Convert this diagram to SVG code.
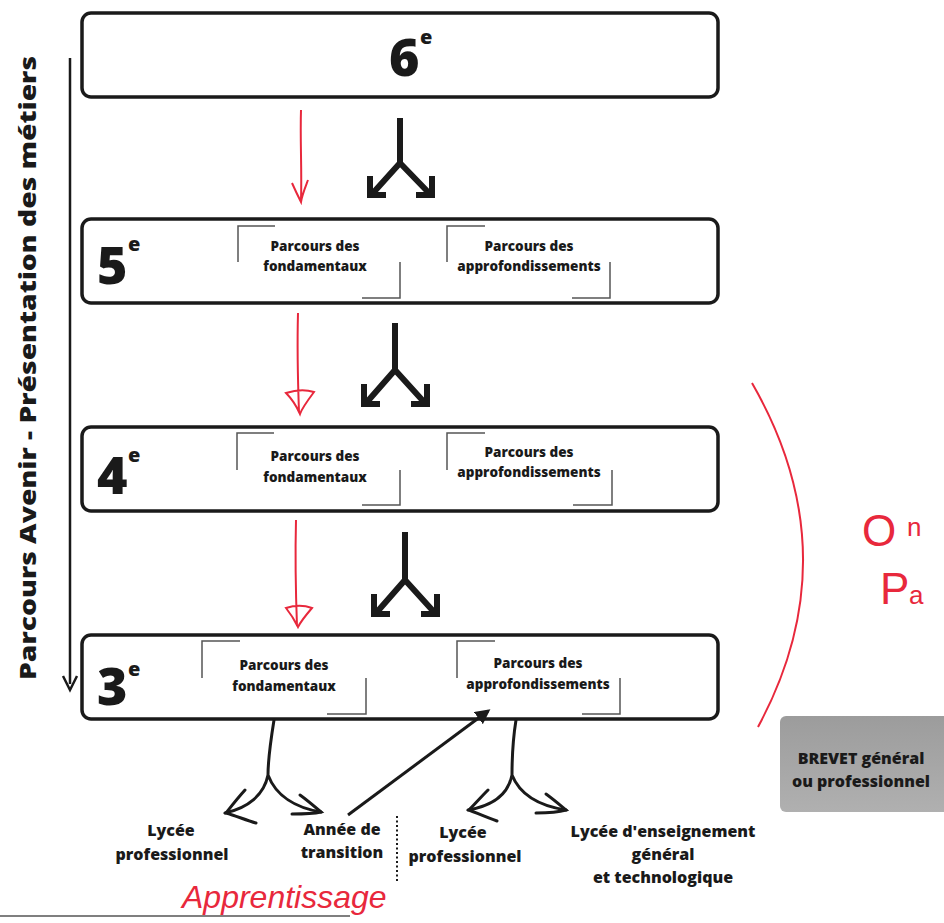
<svg xmlns="http://www.w3.org/2000/svg" width="944" height="923" viewBox="0 0 944 923">
<defs>
<style>
.box{fill:#fff;stroke:#1a1a1a;stroke-width:3.5}
.big{font-family:"Open Sans","DejaVu Sans",sans-serif;font-weight:800;font-size:52px;fill:#1a1a1a}
.sup{font-family:"Open Sans","DejaVu Sans",sans-serif;font-weight:800;font-size:20px;fill:#1a1a1a}
.pl{font-family:"Open Sans","DejaVu Sans",sans-serif;font-weight:800;font-size:13.5px;fill:#1a1a1a;text-anchor:middle}
.lb{font-family:"Open Sans","DejaVu Sans",sans-serif;font-weight:800;font-size:16px;fill:#1a1a1a;text-anchor:middle}
.frm{fill:none;stroke:#555;stroke-width:1.5}
.red{fill:none;stroke:#e8283c;stroke-width:2}
.fork{fill:none;stroke:#1a1a1a;stroke-width:6;stroke-linecap:butt}
.curv{fill:none;stroke:#1a1a1a;stroke-width:3;stroke-linecap:round}
.hand{font-family:"Liberation Sans",sans-serif;font-weight:normal;fill:#e8283c}
</style>
<linearGradient id="gg" x1="0" y1="0" x2="0" y2="1">
<stop offset="0" stop-color="#9c9c9c"/><stop offset="1" stop-color="#b0b0b0"/>
</linearGradient>
<marker id="ah" viewBox="0 0 10 10" refX="8" refY="5" markerWidth="5" markerHeight="5" orient="auto">
<path d="M0,0 L10,5 L0,10 z" fill="#1a1a1a"/>
</marker>
</defs>

<g id="side-label">
<text transform="translate(36,368) rotate(-90)" text-anchor="middle" font-family="Open Sans, DejaVu Sans, sans-serif" font-weight="800" font-size="23" fill="#1a1a1a" textLength="624" lengthAdjust="spacingAndGlyphs">Parcours Avenir  -  Présentation des métiers</text>
</g>

<g id="box-6e">
<rect class="box" x="82" y="13" width="636" height="84" rx="9"/>
<text class="big" x="389" y="76">6</text><text class="sup" x="420" y="44">e</text>
</g>

<g id="box-5e">
<rect class="box" x="82" y="219" width="636" height="84" rx="9"/>
<text class="big" x="97" y="284">5</text><text class="sup" x="128" y="251">e</text>
<path class="frm" d="M238,262 V226 H275 M362,298 H400 V262"/>
<text class="pl" x="315" y="251">Parcours des</text><text class="pl" x="315" y="271">fondamentaux</text>
<path class="frm" d="M447,262 V226 H485 M572,298 H610 V262"/>
<text class="pl" x="529" y="251">Parcours des</text><text class="pl" x="529" y="271">approfondissements</text>
</g>

<g id="box-4e">
<rect class="box" x="82" y="427" width="636" height="84" rx="9"/>
<text class="big" x="97" y="494">4</text><text class="sup" x="128" y="462">e</text>
<path class="frm" d="M237,470 V433 H274 M362,505 H400 V470"/>
<text class="pl" x="315" y="461">Parcours des</text><text class="pl" x="315" y="482">fondamentaux</text>
<path class="frm" d="M447,470 V433 H485 M573,505 H612 V470"/>
<text class="pl" x="529" y="457">Parcours des</text><text class="pl" x="529" y="477">approfondissements</text>
</g>

<g id="box-3e">
<rect class="box" x="82" y="635" width="636" height="84" rx="9"/>
<text class="big" x="97" y="705">3</text><text class="sup" x="128" y="676">e</text>
<path class="frm" d="M202,678 V641 H240 M327,714 H366 V678"/>
<text class="pl" x="284" y="670">Parcours des</text><text class="pl" x="284" y="691">fondamentaux</text>
<path class="frm" d="M457,678 V641 H495 M582,714 H620 V678"/>
<text class="pl" x="538" y="668">Parcours des</text><text class="pl" x="538" y="689">approfondissements</text>
</g>

<g id="brevet">
<rect x="780" y="716" width="175" height="96" rx="6" fill="url(#gg)"/>
<text class="lb" x="861" y="764" fill="#222" font-size="15">BREVET général</text>
<text class="lb" x="861" y="787" fill="#222" font-size="15">ou professionnel</text>
</g>

<g id="outcomes">
<text class="lb" x="171" y="836">Lycée</text><text class="lb" x="172" y="860">professionnel</text>
<text class="lb" x="342" y="835">Année de</text><text class="lb" x="342" y="858">transition</text>
<text class="lb" x="463" y="838">Lycée</text><text class="lb" x="465" y="862">professionnel</text>
<text class="lb" x="663" y="837">Lycée d'enseignement</text><text class="lb" x="663" y="860">général</text><text class="lb" x="663" y="883">et technologique</text>
</g>

<g id="connectors">
<line x1="70" y1="58" x2="70" y2="684" stroke="#1a1a1a" stroke-width="2.5"/>
<path d="M63,676 L70,690 L77,676" fill="none" stroke="#1a1a1a" stroke-width="2.5"/>

<path class="fork" d="M400,118 V163 M400,163 L373,193 M400,163 L429,193 M370,176 V195 H386 M432,176 V195 H416"/>
<path class="fork" d="M395,323 V370 M395,370 L367,402 M395,370 L424,402 M364,384 V404 H380 M427,384 V404 H411"/>
<path class="fork" d="M405,532 V580 M405,580 L377,612 M405,580 L434,612 M374,594 V614 H390 M437,594 V614 H421"/>

<path class="curv" d="M274,720 C270,745 268,760 268,775 C264,795 248,808 225,813 M268,775 C276,796 296,808 321,812"/>
<path class="curv" d="M245,790 C236,800 230,808 226,813 C236,816 246,820 256,823 M300,795 C307,800 314,806 321,812 C312,814 302,814 292,814"/>
<path class="curv" d="M516,720 C512,745 512,760 512,775 C508,795 492,806 468,810 M512,775 C520,795 540,806 566,810"/>
<path class="curv" d="M488,790 C480,798 474,805 469,810 C479,814 488,818 497,821 M546,794 C553,799 560,805 566,810 C556,813 546,813 536,813"/>

<line x1="348" y1="815" x2="488" y2="711" stroke="#1a1a1a" stroke-width="3" marker-end="url(#ah)"/>
<line x1="397" y1="816" x2="397" y2="882" stroke="#1a1a1a" stroke-width="2" stroke-dasharray="2,2.5"/>
</g>

<g id="annotations">
<path class="red" d="M301,110 C300,140 302,170 301,200 M292,183 C296,192 299,198 301,202 C302,195 305,188 308,180"/>
<path class="red" d="M298,313 C297,350 298,385 299,412 M286,393 C295,390 305,389 314,392 C308,400 302,408 300,414 C296,405 291,398 286,393 Z"/>
<path class="red" d="M296,520 C295,560 296,600 297,626 M286,608 C295,605 304,605 312,608 C306,615 301,621 298,627 C294,619 290,613 286,608 Z"/>
<path class="red" d="M752,383 Q851,555 758,727"/>
<text class="hand" x="862" y="546" font-size="44">O</text><text class="hand" x="907" y="536" font-size="26">n</text>
<text class="hand" x="880" y="604" font-size="44">P</text><text class="hand" x="909" y="604" font-size="26">a</text>
<text class="hand" x="182" y="908" font-size="32" font-style="italic">Apprentissage</text>
<line x1="0" y1="916" x2="350" y2="916" stroke="#555" stroke-width="1.5"/>
</g>
</svg>
